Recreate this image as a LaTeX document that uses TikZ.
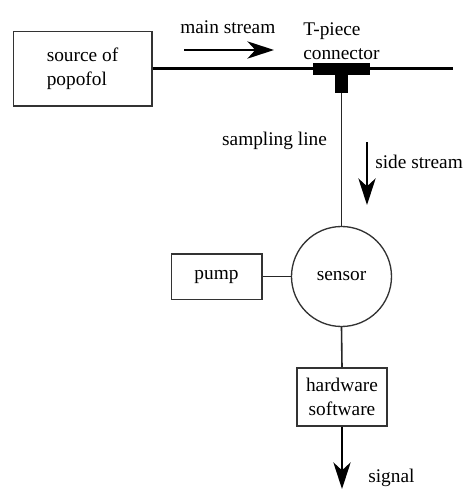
\documentclass[tikz,border=0pt]{standalone}
\usepackage{fontspec}
\setmainfont{Liberation Serif}
\newfontfamily\labelfont{Liberation Serif}
\usetikzlibrary{arrows.meta, positioning}

\begin{document}
\begin{tikzpicture}[x=0.75pt, y=-0.75pt,
  txt/.style={font=\labelfont\fontsize{14.5}{18}\selectfont, inner sep=0pt},
  unit/.style={txt, draw=black!80, line width=1pt, align=left},
  pipe/.style={line width=2.3pt},
  tube/.style={line width=1.2pt, draw=black!85},
  flow/.style={line width=1.1pt, -{Stealth[length=20pt, width=13pt, inset=6pt]}}]
  \useasboundingbox (0,0) rectangle (464,489);
  % units along the sampling path (pixel grid, y down)
  \node[unit, minimum width=104pt, minimum height=56pt] (source) at (82.5,68.5) {source of\\popofol};
  \node[unit, circle, minimum size=75pt] (sensor) at (341.5,276.5) {sensor};
  \node[unit, minimum width=68pt, minimum height=34pt] (pump) at (216.5,276.5) {pump};
  \node[unit, minimum width=67.5pt, minimum height=43.5pt, align=center] (hw) at (342,397) {hardware\\software};
  % main pipe and T-piece
  \coordinate (mainend) at (453,68.5);
  \coordinate (tee) at (341.5,93);
  \coordinate (sigend) at (342,489);
  \draw[pipe] (source.east) -- (mainend);
  \fill (313,62.5) rectangle (370,75);
  \fill (335,75) rectangle (348,93);
  % sampling line and signal path
  \draw[tube] (tee) -- (sensor.north);
  \draw[tube] (pump.east) -- (sensor.west);
  \draw[tube] (sensor.south) -- (hw.north);
  \draw[flow] (hw.south) -- (sigend);
  % flow direction arrows
  \coordinate (ms1) at (184,50);
  \coordinate (ms2) at (274,50);
  \coordinate (ss1) at (367,142);
  \coordinate (ss2) at (367,205);
  \draw[flow] (ms1) -- (ms2);
  \draw[flow] (ss1) -- (ss2);
  % labels
  \node[txt, anchor=base west] (mslabel) at (180,33) {main stream};
  \node[txt, anchor=west, align=left] (teelabel) at (303,41) {T-piece\\connector};
  \node[txt] (samplabel) at (274.5,141) {sampling line};
  \node[txt, anchor=west] (sslabel) at (375,162) {side stream};
  \node[txt, anchor=west] (siglabel) at (368,478) {signal};
\end{tikzpicture}
\end{document}
